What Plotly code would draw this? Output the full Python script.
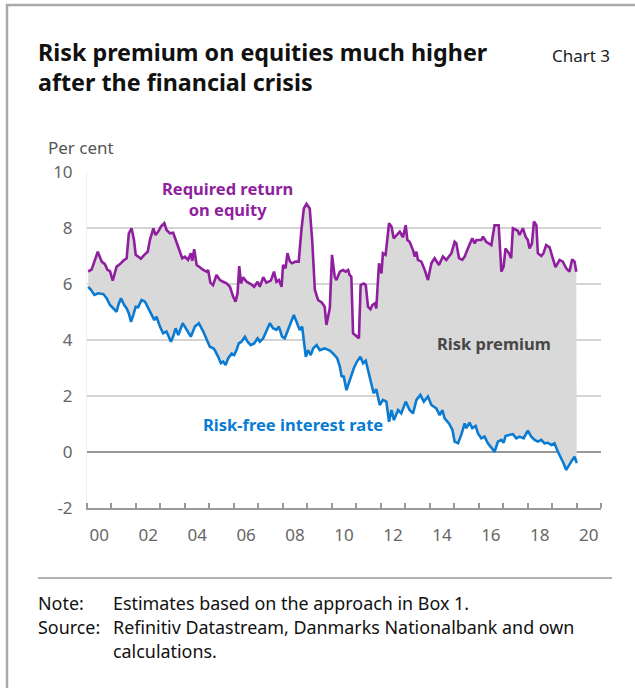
import plotly.graph_objects as go

# ---------------- data (decimal years) ----------------
req_x = [2000.05, 2000.19, 2000.44, 2000.53, 2000.60, 2000.73, 2000.84, 2000.94, 2001.05, 2001.21,
         2001.35, 2001.48, 2001.62, 2001.71, 2001.82, 2001.92, 2001.99, 2002.09, 2002.20, 2002.34,
         2002.48, 2002.57, 2002.71, 2002.80, 2002.91, 2003.02, 2003.16, 2003.25, 2003.39, 2003.52,
         2003.66, 2003.80, 2003.89, 2004.00, 2004.13, 2004.24, 2004.30, 2004.38, 2004.48, 2004.61,
         2004.75, 2004.89, 2004.95, 2005.04, 2005.15, 2005.29, 2005.43, 2005.56, 2005.70, 2005.84,
         2005.97, 2006.07, 2006.15, 2006.22, 2006.29, 2006.38, 2006.52, 2006.69, 2006.83, 2006.97,
         2007.06, 2007.20, 2007.33, 2007.51, 2007.64, 2007.74, 2007.84, 2007.95, 2008.01, 2008.11,
         2008.19, 2008.29, 2008.38, 2008.52, 2008.65, 2008.76, 2008.86, 2008.97, 2009.10, 2009.20,
         2009.31, 2009.44, 2009.60, 2009.71, 2009.78, 2009.92, 2010.01, 2010.12, 2010.19, 2010.33,
         2010.46, 2010.57, 2010.67, 2010.73, 2010.80, 2010.87, 2011.01, 2011.11, 2011.18, 2011.31,
         2011.39, 2011.48, 2011.58, 2011.66, 2011.76, 2011.82, 2011.93, 2012.03, 2012.09, 2012.20,
         2012.34, 2012.44, 2012.53, 2012.64, 2012.78, 2012.91, 2013.02, 2013.09, 2013.18, 2013.32,
         2013.39, 2013.46, 2013.52, 2013.66, 2013.80, 2013.93, 2014.07, 2014.20, 2014.38, 2014.54,
         2014.68, 2014.89, 2015.02, 2015.09, 2015.20, 2015.33, 2015.43, 2015.56, 2015.74, 2015.84,
         2015.91, 2016.11, 2016.18, 2016.31, 2016.52, 2016.65, 2016.82, 2016.93, 2017.02, 2017.10,
         2017.24, 2017.33, 2017.40, 2017.60, 2017.67, 2017.81, 2017.92, 2018.01, 2018.08, 2018.18,
         2018.26, 2018.36, 2018.42, 2018.56, 2018.65, 2018.76, 2018.90, 2019.01, 2019.14, 2019.31,
         2019.44, 2019.58, 2019.71, 2019.82, 2019.92, 2019.99]
req_y = [6.44, 6.52, 7.15, 6.98, 6.80, 6.71, 6.50, 6.46, 6.12, 6.62,
         6.71, 6.83, 6.92, 7.81, 7.99, 7.57, 7.04, 6.98, 6.90, 7.04,
         7.15, 7.57, 7.99, 7.75, 7.87, 8.05, 8.17, 7.93, 7.81, 7.83,
         7.51, 7.15, 6.92, 6.98, 6.86, 7.10, 6.83, 7.24, 6.68, 6.60,
         6.50, 6.44, 6.50, 6.05, 5.96, 6.32, 6.14, 6.08, 6.02, 5.90,
         5.55, 5.37, 5.67, 6.64, 6.02, 6.24, 6.08, 6.00, 5.90, 6.08,
         5.90, 6.24, 6.05, 6.12, 6.44, 6.08, 6.14, 5.90, 6.68, 6.56,
         7.10, 6.80, 6.74, 6.80, 6.80, 7.93, 8.70, 8.86, 8.70, 7.57,
         5.79, 5.43, 5.33, 5.19, 4.54, 5.13, 7.04, 6.26, 6.14, 6.44,
         6.50, 6.44, 6.50, 6.32, 6.26, 4.24, 4.12, 4.06, 5.96, 6.02,
         5.96, 5.19, 5.10, 5.25, 5.31, 5.13, 6.74, 6.38, 7.10, 7.04,
         8.17, 8.05, 7.63, 7.75, 7.87, 7.67, 8.10, 7.57, 7.51, 7.21,
         6.98, 7.15, 6.86, 6.80, 6.50, 6.14, 6.74, 6.92, 6.68, 6.98,
         6.86, 7.10, 7.51, 7.45, 6.92, 6.86, 6.98, 7.27, 7.63, 7.45,
         7.57, 7.57, 7.69, 7.51, 7.39, 8.10, 8.10, 6.44, 6.62, 7.27,
         7.10, 6.92, 7.99, 7.90, 7.75, 7.99, 7.69, 7.57, 7.27, 7.45,
         8.23, 8.10, 7.10, 7.00, 7.10, 7.39, 7.31, 6.98, 6.60, 6.86,
         6.80, 6.56, 6.44, 6.88, 6.80, 6.44]

rf_x = [2000.05, 2000.16, 2000.30, 2000.46, 2000.67, 2000.80, 2000.94, 2001.07, 2001.21, 2001.28,
        2001.39, 2001.52, 2001.62, 2001.71, 2001.80, 2001.89, 2001.99, 2002.09, 2002.23, 2002.37,
        2002.50, 2002.61, 2002.75, 2002.84, 2002.98, 2003.11, 2003.25, 2003.43, 2003.52, 2003.62,
        2003.73, 2003.91, 2004.07, 2004.24, 2004.41, 2004.57, 2004.75, 2004.89, 2005.02, 2005.16,
        2005.22, 2005.36, 2005.47, 2005.56, 2005.66, 2005.77, 2005.91, 2006.01, 2006.11, 2006.20,
        2006.31, 2006.45, 2006.56, 2006.69, 2006.83, 2006.97, 2007.06, 2007.20, 2007.33, 2007.47,
        2007.60, 2007.74, 2007.84, 2007.97, 2008.08, 2008.22, 2008.36, 2008.45, 2008.56, 2008.69,
        2008.79, 2008.87, 2008.94, 2009.03, 2009.14, 2009.24, 2009.38, 2009.51, 2009.71, 2009.92,
        2010.05, 2010.22, 2010.33, 2010.40, 2010.49, 2010.60, 2010.73, 2010.90, 2011.03, 2011.17,
        2011.28, 2011.39, 2011.48, 2011.62, 2011.71, 2011.82, 2011.96, 2012.09, 2012.23, 2012.34,
        2012.44, 2012.54, 2012.71, 2012.84, 2013.02, 2013.18, 2013.32, 2013.46, 2013.62, 2013.76,
        2013.93, 2014.07, 2014.27, 2014.41, 2014.52, 2014.61, 2014.79, 2014.93, 2015.02, 2015.16,
        2015.29, 2015.43, 2015.50, 2015.63, 2015.74, 2015.88, 2015.97, 2016.11, 2016.24, 2016.38,
        2016.52, 2016.65, 2016.79, 2016.93, 2017.02, 2017.10, 2017.24, 2017.40, 2017.54, 2017.67,
        2017.84, 2018.01, 2018.15, 2018.29, 2018.42, 2018.56, 2018.69, 2018.83, 2018.97, 2019.10,
        2019.24, 2019.38, 2019.47, 2019.58, 2019.69, 2019.82, 2019.92, 2020.01]
rf_y = [5.90, 5.79, 5.61, 5.67, 5.64, 5.49, 5.25, 5.13, 5.01, 5.25,
        5.49, 5.25, 5.13, 4.95, 4.65, 4.89, 5.19, 5.17, 5.43, 5.37,
        5.13, 4.95, 4.71, 4.83, 4.48, 4.24, 4.30, 3.94, 4.12, 4.42,
        4.18, 4.60, 4.36, 4.12, 4.48, 4.60, 4.30, 4.00, 3.76, 3.70,
        3.64, 3.40, 3.17, 3.23, 3.11, 3.35, 3.52, 3.46, 3.64, 3.88,
        3.94, 4.12, 3.94, 3.82, 3.88, 4.06, 3.94, 4.06, 4.30, 4.60,
        4.42, 4.36, 4.48, 4.12, 4.06, 4.36, 4.65, 4.89, 4.65, 4.36,
        4.48, 3.88, 3.40, 3.64, 3.46, 3.70, 3.82, 3.64, 3.70, 3.62,
        3.52, 3.35, 3.05, 2.71, 2.69, 2.21, 2.57, 2.99, 3.23, 3.40,
        3.17, 3.26, 2.93, 2.39, 2.10, 2.24, 1.68, 1.86, 1.80, 1.08,
        1.50, 1.14, 1.50, 1.38, 1.80, 1.50, 1.38, 1.86, 2.04, 1.80,
        1.98, 1.68, 1.56, 1.32, 1.50, 1.20, 1.02, 0.79, 0.37, 0.31,
        0.61, 1.02, 0.85, 1.05, 0.85, 0.93, 0.67, 0.49, 0.55, 0.31,
        0.13, 0.01, 0.37, 0.43, 0.33, 0.57, 0.61, 0.64, 0.49, 0.55,
        0.49, 0.76, 0.55, 0.43, 0.37, 0.43, 0.31, 0.33, 0.25, 0.31,
        0.01, -0.23, -0.40, -0.64, -0.46, -0.29, -0.17, -0.40]

year_ticks = [2000.5, 2002.5, 2004.5, 2006.5, 2008.5, 2010.5, 2012.5, 2014.5, 2016.5, 2018.5, 2020.5]
year_labels = ["00", "02", "04", "06", "08", "10", "12", "14", "16", "18", "20"]
year_bounds = list(range(2000, 2022))
y_ticks = [-2, 0, 2, 4, 6, 8, 10]
y_labels = ["-2", "0", "2", "4", "6", "8", "10"]

# ---------------- style ----------------
PURPLE = "#8F1F9F"
BLUE = "#0A7BD2"
FILL = "#D9D9D9"
FONT = "Noto Sans"

W_FIG, H_FIG = 635, 688
ML, MR, MT, MB = 87, 34, 172, 180
PW = W_FIG - ML - MR
PH = H_FIG - MT - MB


def px(x):
    return (x - ML) / PW


def py(y):
    return (H_FIG - MB - y) / PH


fig = go.Figure()
fig.add_trace(go.Scatter(x=rf_x, y=rf_y, mode="lines", line=dict(width=0, color=BLUE),
                         hoverinfo="skip", showlegend=False))
fig.add_trace(go.Scatter(x=req_x, y=req_y, mode="lines", line=dict(width=0, color=PURPLE),
                         fill="tonexty", fillcolor=FILL, hoverinfo="skip", showlegend=False))
fig.add_trace(go.Scatter(x=rf_x, y=rf_y, mode="lines", name="Risk-free interest rate",
                         line=dict(width=2.6, color=BLUE), showlegend=False))
fig.add_trace(go.Scatter(x=req_x, y=req_y, mode="lines", name="Required return on equity",
                         line=dict(width=2.6, color=PURPLE), showlegend=False))

fig.update_layout(
    width=W_FIG, height=H_FIG,
    margin=dict(l=ML, r=MR, t=MT, b=MB),
    paper_bgcolor="white", plot_bgcolor="white",
    font=dict(family=FONT, size=17, color="#666666"),
    showlegend=False,
    xaxis=dict(range=[2000, 2021], tickmode="array", tickvals=year_ticks, ticktext=year_labels,
               ticks="", showgrid=False, zeroline=False, showline=True, linecolor="#999999",
               linewidth=2, ticklabelstandoff=11,
               tickfont=dict(size=17, color="#666666"),
               minor=dict(tickmode="array", tickvals=year_bounds, ticks="inside", ticklen=5,
                          tickwidth=1.5, tickcolor="#999999", showgrid=False)),
    yaxis=dict(range=[-2, 10], tickmode="array", tickvals=y_ticks, ticktext=y_labels, ticks="",
               showgrid=True, gridcolor="#D4D4D4", gridwidth=1.5,
               zeroline=True, zerolinecolor="#999999", zerolinewidth=2,
               showline=True, linecolor="#F0F0F0", linewidth=1,
               ticklabelstandoff=10, tickfont=dict(size=17, color="#666666")),
)

ann = []
def text(x, y, s, size=15, color="#1a1a1a", bold=False, anchor="left", yanchor="middle"):
    if bold:
        s = "<b>" + s.replace("<br>", "</b><br><b>") + "</b>"
    ann.append(dict(x=px(x), y=py(y), xref="paper", yref="paper", text=s, showarrow=False,
                    xanchor=anchor, yanchor=yanchor, align=anchor if anchor != "center" else "center",
                    font=dict(family=FONT, size=size, color=color)))

text(36, 52, "Risk premium on equities much higher", size=23.3, color="#111111", bold=True)
text(36, 82, "after the financial crisis", size=23.3, color="#111111", bold=True)
text(550, 56, "Chart 3", size=17, color="#222222")
text(46, 147, "Per cent", size=17, color="#555555")

text(227, 199, "Required return<br>on equity", size=16.5, color=PURPLE, bold=True, anchor="center")
text(494, 343, "Risk premium", size=16.5, color="#474747", bold=True, anchor="center")
text(293, 424, "Risk-free interest rate", size=16.5, color=BLUE, bold=True, anchor="center")

text(36, 603, "Note:", size=17.9, color="#111111")
text(111, 603, "Estimates based on the approach in Box 1.", size=17.9, color="#111111")
text(36, 627, "Source:", size=17.9, color="#111111")
text(111, 627, "Refinitiv Datastream, Danmarks Nationalbank and own", size=17.9, color="#111111")
text(111, 651, "calculations.", size=17.9, color="#111111")

fig.update_layout(annotations=ann)

shapes = [
    dict(type="line", xref="paper", yref="paper", x0=px(38), x1=px(612), y0=py(578), y1=py(578),
         line=dict(color="#999999", width=1.5)),
    dict(type="line", xref="paper", yref="paper", x0=px(6), x1=px(640), y0=py(5), y1=py(5),
         line=dict(color="#AAAAAA", width=2.5)),
    dict(type="line", xref="paper", yref="paper", x0=px(7), x1=px(7), y0=py(4), y1=py(700),
         line=dict(color="#AAAAAA", width=2.5)),
]
fig.update_layout(shapes=shapes)

fig.write_html("out.html", config={"displayModeBar": False},
               post_script="document.body.style.margin='0';")
